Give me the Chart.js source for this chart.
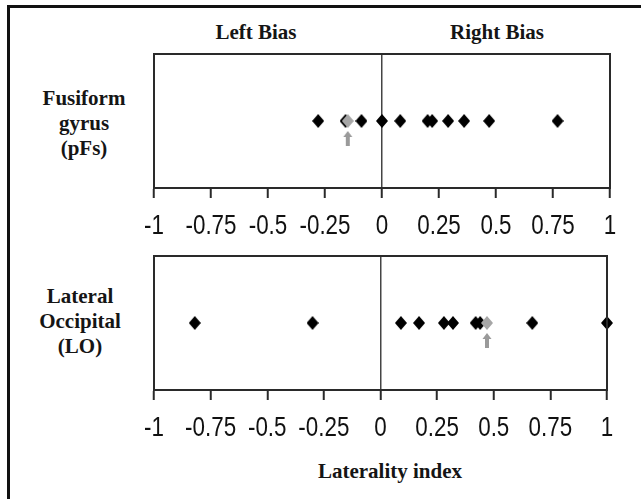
<!DOCTYPE html>
<html>
<head>
<meta charset="utf-8">
<script src="https://cdn.jsdelivr.net/npm/chart.js@4.4.1/dist/chart.umd.min.js"></script>
<style>
  html, body { margin: 0; padding: 0; background: #fff; }
  #page { position: relative; width: 641px; height: 499px; overflow: hidden; }
  #frame { position: absolute; left: 7px; top: 5px; width: 700px; height: 600px;
           border-left: 3px solid #111; border-top: 3px solid #111; }
  .lbl { position: absolute; font-family: 'Liberation Serif', 'Times New Roman', serif;
         font-weight: bold; font-size: 21px; color: #151515; text-align: center; line-height: 25px; }
  .wrap { position: absolute; left: 0; width: 641px; }
</style>
</head>
<body>
<div id="page">
  <div id="frame"></div>
  <div class="lbl" style="left:196px; top:20px; width:120px;">Left Bias</div>
  <div class="lbl" style="left:437px; top:20px; width:120px;">Right Bias</div>
  <div class="lbl" style="left:14px; top:86px; width:140px;">Fusiform<br>gyrus<br>(pFs)</div>
  <div class="lbl" style="left:10px; top:284px; width:140px;">Lateral<br>Occipital<br>(LO)</div>
  <div class="lbl" style="left:290px; top:459px; width:200px;">Laterality index</div>
  <div class="wrap" style="top:0; height:250px;"><canvas id="pfsChart"></canvas></div>
  <div class="wrap" style="top:250px; height:200px;"><canvas id="loChart"></canvas></div>
</div>
<script>
// --- DATA (laterality index per subject, plus group mean in grey) ---
const tickValues = [-1, -0.75, -0.5, -0.25, 0, 0.25, 0.5, 0.75, 1];
const tickLabels = ['-1', '-0.75', '-0.5', '-0.25', '0', '0.25', '0.5', '0.75', '1'];

const pfsSubjects = [-0.28, -0.16, -0.09, 0, 0.08, 0.2, 0.22, 0.29, 0.36, 0.47, 0.77];
const pfsMean = [-0.15];

const loSubjects = [-0.82, -0.3, 0.09, 0.17, 0.28, 0.32, 0.42, 0.44, 0.67, 1.0];
const loMean = [0.47];

// --- MARKERS ---
function diamondIcon(color, withArrow) {
    const c = document.createElement('canvas');
    const w = 12, h = withArrow ? 52 : 14;
    c.width = w; c.height = h;
    const g = c.getContext('2d');
    const cy = h / 2;
    g.fillStyle = color;
    g.beginPath();
    g.moveTo(6, cy - 7); g.lineTo(12, cy); g.lineTo(6, cy + 7); g.lineTo(0, cy);
    g.closePath(); g.fill();
    if (withArrow) {
        g.fillStyle = '#9a9a9a';
        g.beginPath();
        g.moveTo(6, cy + 10); g.lineTo(10.5, cy + 16); g.lineTo(1.5, cy + 16);
        g.closePath(); g.fill();
        g.fillRect(4, cy + 16, 4, 9);
    }
    return c;
}
const blackDiamond = diamondIcon('#000', false);
const greyDiamond = diamondIcon('#a6a6a6', true);

// box around the plot area + narrow tick labels (the original uses a condensed sans)
const boxPlugin = {
    id: 'box',
    afterDraw(chart) {
        const a = chart.chartArea;
        const ctx = chart.ctx;
        const xScale = chart.scales.x;
        ctx.save();
        ctx.strokeStyle = '#2a2a2a';
        ctx.lineWidth = 2;
        ctx.strokeRect(a.left, a.top, a.right - a.left, a.bottom - a.top);

        ctx.fillStyle = '#111';
        ctx.font = "28px 'Liberation Sans', Arial, sans-serif";
        ctx.textAlign = 'center';
        ctx.textBaseline = 'middle';
        tickValues.forEach((v, i) => {
            const px = xScale.getPixelForValue(v);
            ctx.save();
            ctx.translate(px, a.bottom + 38);
            ctx.scale(0.8, 1);
            ctx.fillText(tickLabels[i], 0, 0);
            ctx.restore();
        });
        ctx.restore();
    }
};

function makePanel(canvasId, subjects, mean, padding) {
    const toPts = arr => arr.map(v => ({ x: v, y: 0 }));
    return new Chart(document.getElementById(canvasId), {
        type: 'scatter',
        data: {
            datasets: [
                { data: toPts(mean), pointStyle: greyDiamond, clip: false },
                { data: toPts(subjects), pointStyle: blackDiamond, clip: false }
            ]
        },
        options: {
            responsive: true,
            maintainAspectRatio: false,
            animation: false,
            events: [],
            layout: { padding: padding },
            plugins: { legend: { display: false }, tooltip: { enabled: false } },
            scales: {
                x: {
                    type: 'linear',
                    min: -1, max: 1,
                    afterBuildTicks: axis => { axis.ticks = tickValues.map(v => ({ value: v })); },
                    afterFit: axis => { axis.height = 60; },
                    ticks: { display: false, autoSkip: false },
                    grid: {
                        color: ctx => (ctx.tick && ctx.tick.value === 0) ? '#444' : 'rgba(0,0,0,0)',
                        lineWidth: 1.5,
                        tickColor: '#2a2a2a',
                        tickLength: 10,
                        tickWidth: 2
                    },
                    border: { display: true, color: '#2a2a2a', width: 2 }
                },
                y: { display: false, min: -1, max: 1 }
            }
        },
        plugins: [boxPlugin]
    });
}

makePanel('pfsChart', pfsSubjects, pfsMean, { left: 154, right: 31, top: 54, bottom: 2 });
makePanel('loChart', loSubjects, loMean, { left: 154, right: 34, top: 6, bottom: 0 });
</script>
</body>
</html>
